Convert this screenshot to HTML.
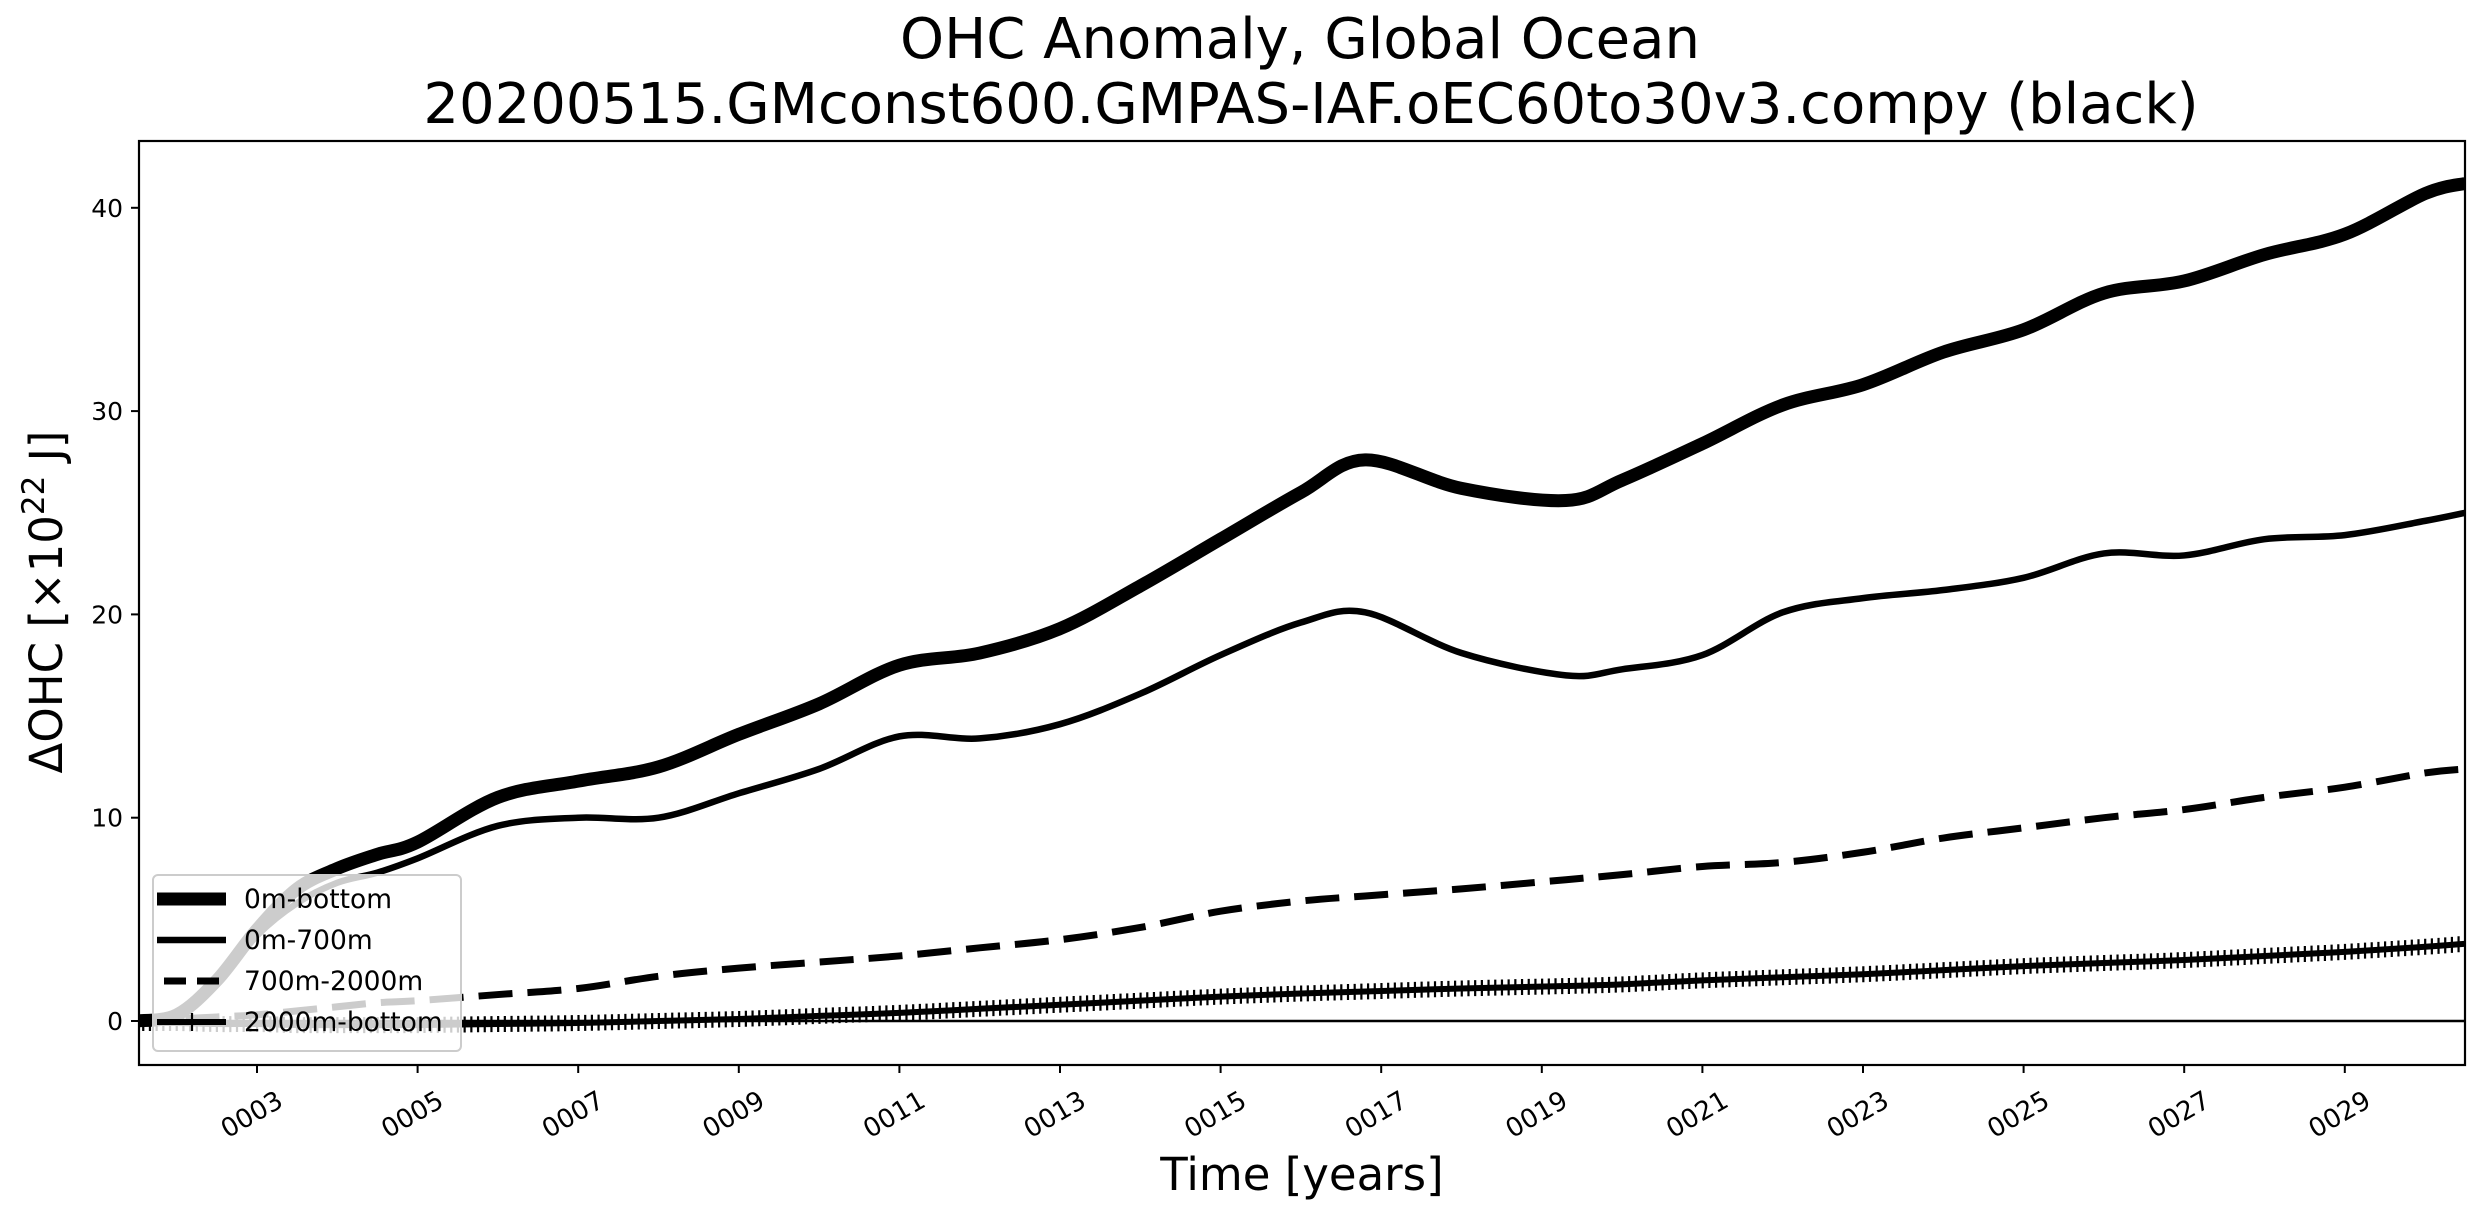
<!DOCTYPE html>
<html><head><meta charset="utf-8">
<style>
html,body{margin:0;padding:0;background:#fff;}
svg{display:block;font-family:"DejaVu Sans","Liberation Sans",sans-serif;}
</style></head>
<body>
<svg id="chart" width="2484" height="1218" viewBox="0 0 2484 1218" xmlns="http://www.w3.org/2000/svg">
<rect width="2484" height="1218" fill="#fff"/>
<text x="1300" y="58" font-size="56" text-anchor="middle">OHC Anomaly, Global Ocean</text>
<text x="1311" y="123" font-size="56" text-anchor="middle">20200515.GMconst600.GMPAS-IAF.oEC60to30v3.compy (black)</text>
<g id="plot"></g>
<text x="1302" y="1190" font-size="45" text-anchor="middle">Time [years]</text>
<text transform="translate(62,602) rotate(-90)" font-size="45" text-anchor="middle">ΔOHC [×10<tspan font-size="31" dy="-18">22</tspan><tspan dy="18"> J]</tspan></text>
</svg>
<script>
const years = [1.5,2,2.5,3,3.5,4,4.5,5,6,7,8,9,10,11,12,13,14,15,16,16.8,18,19.3,20,21,22,23,24,25,26,27,28,29,30,30.5];
const total = [0,0.3,2.0,4.5,6.5,7.5,8.2,8.8,11.0,11.8,12.5,14.1,15.6,17.5,18.1,19.3,21.4,23.7,26.0,27.6,26.2,25.6,26.6,28.4,30.3,31.3,32.9,34.0,35.8,36.4,37.7,38.7,40.7,41.2];
const upper = [0,0.2,1.8,4.2,5.8,6.8,7.3,8.0,9.6,10.0,10.0,11.2,12.4,14.0,13.9,14.6,16.1,18.0,19.6,20.1,18.1,17.0,17.3,18.0,20.1,20.8,21.2,21.8,23.0,22.9,23.7,23.9,24.6,25.0];
const middle = [0,0.1,0.2,0.3,0.5,0.7,0.9,1.0,1.3,1.6,2.2,2.6,2.9,3.2,3.6,4.0,4.6,5.4,5.9,6.15,6.5,6.95,7.2,7.6,7.8,8.3,9.0,9.5,10.0,10.4,11.0,11.5,12.2,12.4];
const deep = [-0.1,-0.1,-0.15,-0.15,-0.2,-0.2,-0.2,-0.2,-0.15,-0.1,0,0.1,0.25,0.4,0.6,0.8,1.0,1.2,1.35,1.45,1.6,1.72,1.8,2.0,2.15,2.3,2.5,2.7,2.85,3.0,3.2,3.4,3.65,3.8];
const yTicks = [0,10,20,30,40];
const xTicks = [3,5,7,9,11,13,15,17,19,21,23,25,27,29];
const xTickLabels = ["0003","0005","0007","0009","0011","0013","0015","0017","0019","0021","0023","0025","0027","0029"];

const L=139,R=2465,T=141,B=1065;
function xs(y){return 257+(y-3)*80.3;}
function ys(v){return 1021-v*20.33;}
const NS="http://www.w3.org/2000/svg";
const g=document.getElementById('plot');
function mk(tag,attrs,parent){const e=document.createElementNS(NS,tag);for(const k in attrs)e.setAttribute(k,attrs[k]);(parent||g).appendChild(e);return e;}
function pathD(xv,yv){
  const p=xv.map((x,i)=>[xs(x),ys(yv[i])]);
  let d=`M${p[0][0]},${p[0][1]}`;
  for(let i=0;i<p.length-1;i++){
    const p0=p[Math.max(0,i-1)],p1=p[i],p2=p[i+1],p3=p[Math.min(p.length-1,i+2)];
    const c1=[p1[0]+(p2[0]-p0[0])/6,p1[1]+(p2[1]-p0[1])/6];
    const c2=[p2[0]-(p3[0]-p1[0])/6,p2[1]-(p3[1]-p1[1])/6];
    d+=` C${c1[0]},${c1[1]} ${c2[0]},${c2[1]} ${p2[0]},${p2[1]}`;
  }
  return d;
}
const clip=mk('clipPath',{id:'cp'});mk('rect',{x:L,y:T,width:R-L,height:B-T},clip);
const lines=mk('g',{'clip-path':'url(#cp)'});
const z=mk('line',{x1:L,x2:R,y1:ys(0),y2:ys(0),stroke:'#000','stroke-width':2.5},lines);


const s1=mk('path',{d:pathD(years,total),fill:'none',stroke:'#000','stroke-width':13,'stroke-linejoin':'round'},lines);


const s2=mk('path',{d:pathD(years,upper),fill:'none',stroke:'#000','stroke-width':6.5},lines);


const s3=mk('path',{d:pathD(years,middle),fill:'none',stroke:'#000','stroke-width':7,'stroke-dasharray':'34 15'},lines);


const s4=mk('path',{d:pathD(years,deep),fill:'none',stroke:'#000','stroke-width':6},lines);


const len=s4.getTotalLength();
let md='';
for(let yr=years[0];yr<=years[years.length-1];yr+=1/12){
  const pt=s4.getPointAtLength(len*(yr-years[0])/(years[years.length-1]-years[0]));
  md+=`M${pt.x},${pt.y-8}V${pt.y+8}`;
}
const mks=mk('path',{d:md,stroke:'#000','stroke-width':2.2,fill:'none'},lines);


const fr=mk('rect',{x:L,y:T,width:R-L,height:B-T,fill:'none',stroke:'#000','stroke-width':2.2});


yTicks.forEach(v=>{
  const y=ys(v);
  const t=mk('line',{x1:L-8,x2:L,y1:y,y2:y,stroke:'#000','stroke-width':2});
  
  
  const tx=mk('text',{x:L-16,y:y+9,'font-size':25,'text-anchor':'end'});
  tx.textContent=v;
  
  
});
xTicks.forEach((v,i)=>{
  const x=xs(v);
  const t=mk('line',{x1:x,x2:x,y1:B,y2:B+8,stroke:'#000','stroke-width':2});
  
  
  const tx=mk('text',{transform:`translate(${x+24},${B+34}) rotate(-30)`,'font-size':26,'text-anchor':'end','dominant-baseline':'middle'});
  tx.textContent=xTickLabels[i];
  
  
});
const lg=mk('g',{});


mk('rect',{x:153,y:875,width:308,height:176,rx:5,fill:'#fff','fill-opacity':0.8,stroke:'#ccc','stroke-width':2},lg);
const entries=[["0m-bottom",13,null,false],["0m-700m",6.5,null,false],["700m-2000m",7,"22 11",false],["2000m-bottom",6,null,true]];
entries.forEach((e,i)=>{
  const y=899+i*41;
  const ln=mk('line',{x1:157,x2:226,y1:y,y2:y,stroke:'#000','stroke-width':e[1]},lg);
  if(e[2]){ln.setAttribute('stroke-dasharray',e[2]);ln.setAttribute('x1',164);}
  if(e[3])mk('line',{x1:192,x2:192,y1:y-9,y2:y+9,stroke:'#000','stroke-width':2.2},lg);
  const tx=mk('text',{x:244,y:y+9,'font-size':26.5},lg);
  tx.textContent=e[0];
  
  
});
</script>
</body></html>
